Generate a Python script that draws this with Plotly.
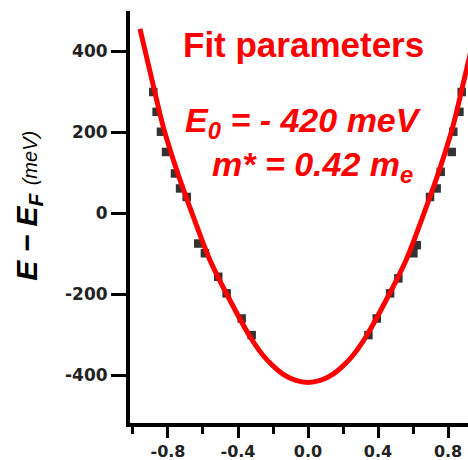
import plotly.graph_objects as go

# Measured band dispersion: momentum k and energy E - E_F (meV)
k_data = [-0.884, -0.865, -0.840, -0.811, -0.760, -0.731, -0.693, -0.627, -0.589,
          -0.513, -0.465, -0.379, -0.322,
          0.345, 0.393, 0.469, 0.516, 0.602, 0.621, 0.697, 0.735, 0.758, 0.821,
          0.830, 0.865, 0.878]
E_data = [299, 250, 201, 151, 98, 61, 40, -75, -99,
          -157, -198, -260, -301,
          -301, -260, -198, -161, -99, -79, 40, 61, 102, 151,
          201, 250, 299]

# Parabolic fit curve (E0 = -420 meV, m* = 0.42 m_e)
k_fit = [-0.960, -0.884, -0.827, -0.750, -0.655, -0.560, -0.446, -0.331, -0.255, -0.200,
         -0.141, -0.070, 0.0,
         0.070, 0.141, 0.200, 0.255, 0.331, 0.446, 0.560, 0.655, 0.750, 0.827, 0.884, 0.960]
E_fit = [455, 315, 213, 106, -9, -116, -215, -305, -352, -377,
         -398, -413, -418,
         -413, -398, -377, -352, -305, -215, -116, -9, 106, 213, 315, 455]

x_tickvals = [-0.8, -0.4, 0.0, 0.4, 0.8]
x_ticktext = ["-0.8", "-0.4", "0.0", "0.4", "0.8"]
y_tickvals = [-400, -200, 0, 200, 400]
y_ticktext = ["-400", "-200", "0", "200", "400"]

fig = go.Figure()

fig.add_trace(go.Scatter(
    x=k_data, y=E_data, mode="markers",
    marker=dict(symbol="square", size=8.5, color="#333333", line=dict(width=0)),
    showlegend=False,
))

fig.add_trace(go.Scatter(
    x=k_fit, y=E_fit, mode="lines", line_shape="spline",
    line=dict(color="#ff0000", width=5),
    showlegend=False,
))

tick_font = dict(family="DejaVu Sans", size=16, color="#222222", weight="bold")

fig.update_xaxes(
    range=[-1.017, 0.914],
    showline=True, linewidth=4, linecolor="black",
    ticks="outside", ticklen=11, tickwidth=3, tickcolor="black",
    tickvals=x_tickvals, ticktext=x_ticktext, tickfont=tick_font,
    minor=dict(ticks="outside", ticklen=7, tickwidth=3, tickcolor="black",
               tickvals=[-1.0, -0.6, -0.2, 0.2, 0.6]),
    showgrid=False, zeroline=False,
)
fig.update_yaxes(
    range=[-518, 499],
    showline=True, linewidth=4, linecolor="black",
    ticks="outside", ticklen=15, tickwidth=3, tickcolor="black",
    tickvals=y_tickvals, ticktext=y_ticktext, tickfont=dict(tick_font, size=17),
    showgrid=False, zeroline=False,
)

red = "#ff0000"
fig.add_annotation(
    xref="paper", yref="paper", x=0.512, y=0.971, showarrow=False,
    text="<b>Fit parameters</b>",
    font=dict(family="Arial", size=35, color=red),
)
fig.add_annotation(
    xref="paper", yref="paper", x=0.512, y=0.786, showarrow=False,
    text="<b><i>E<sub>0</sub> = - 420 meV</i></b>",
    font=dict(family="Arial", size=34, color=red),
)
fig.add_annotation(
    xref="paper", yref="paper", x=0.540, y=0.623, showarrow=False,
    text="<b><i>m* = 0.42 m<sub>e</sub></i></b>",
    font=dict(family="Arial", size=34, color=red),
)

# Rotated axis title
fig.add_annotation(
    xref="paper", yref="paper", x=-0.36, y=0.527, showarrow=False,
    textangle=-90,
    text="<b><i>E − E<sub>F</sub></i></b> <i><span style='font-size:20px'>(meV)</span></i>",
    font=dict(family="Arial", size=30, color="black"),
)

fig.update_layout(
    width=468, height=460,
    margin=dict(l=130, r=0, t=11, b=37),
    plot_bgcolor="white", paper_bgcolor="white",
)

fig.write_html("out.html")
